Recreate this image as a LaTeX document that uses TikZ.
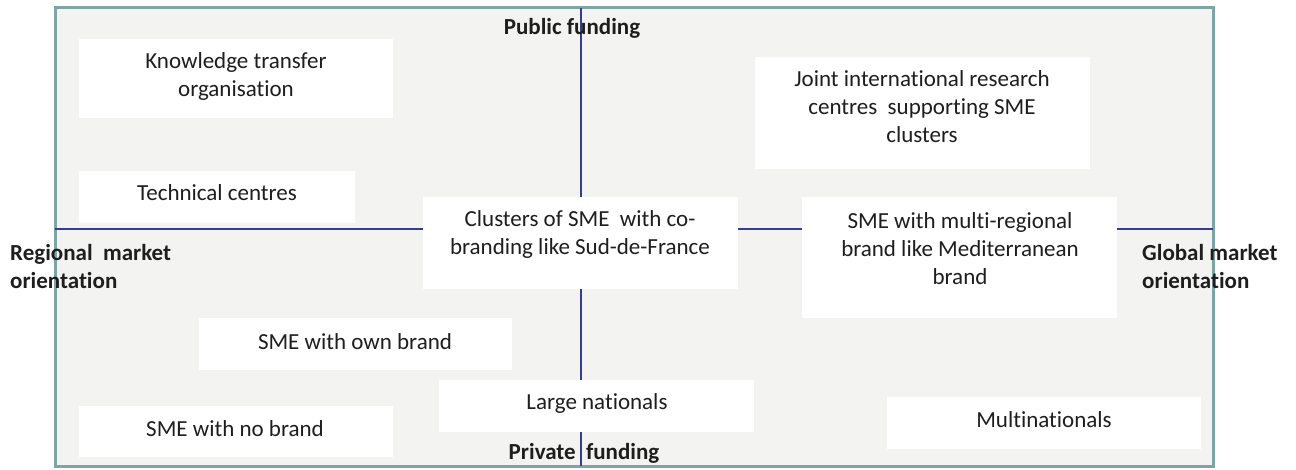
\documentclass[tikz,border=0pt]{standalone}
\usepackage{fontspec}
\setmainfont{Carlito}[Ligatures=NoCommon]
\definecolor{panelgray}{RGB}{243,243,242}
\definecolor{frameteal}{RGB}{125,165,168}
\definecolor{axisblue}{RGB}{55,60,140}
\definecolor{inkgray}{RGB}{30,30,30}

\begin{document}
\begin{tikzpicture}[x=1pt, y=-1pt,
	cell/.style={fill=white, inner sep=0pt},
	celltext/.style={align=center, inner sep=0pt, text=inkgray, font=\fontsize{23}{28}\selectfont},
	axislabel/.style={align=left, inner sep=0pt, text=inkgray, font=\fontsize{23}{28}\selectfont\bfseries},
	axisline/.style={draw=axisblue, line width=1.5pt}]
	\useasboundingbox (0,0) rectangle (1296,470);
	
	%panel
	\filldraw [fill=panelgray, draw=frameteal, line width=3pt] (55,8) rectangle (1213,466);
	
	%ends of the axes
	\coordinate (N) at (581,8);
	\coordinate (S) at (581,466);
	\coordinate (W) at (55,229);
	\coordinate (E) at (1213,229);
	
	%axes
	\draw [axisline] (N) -- (S);
	\draw [axisline] (W) -- (E);
	
	%axis labels
	\node [axislabel] (pub) at (572,28) {Public funding};
	\node [axislabel] (priv) at (584,453) {Private\ \ funding};
	\node [axislabel, anchor=west] (reg) at (10,267) {Regional\ \ market\\orientation};
	\node [axislabel, anchor=west] (glob) at (1142,267) {Global market\\orientation};
	
	%boxes
	\node [cell, minimum width=314pt, minimum height=79pt] (kto) at (236,78.5) {};
	\node [cell, minimum width=276pt, minimum height=52pt] (tc) at (217,197) {};
	\node [cell, minimum width=335pt, minimum height=112pt] (jirc) at (922.5,113) {};
	\node [cell, minimum width=315pt, minimum height=92pt] (clus) at (580.5,243) {};
	\node [cell, minimum width=315pt, minimum height=121pt] (multi) at (959.5,257.5) {};
	\node [cell, minimum width=313pt, minimum height=52pt] (own) at (355.5,344) {};
	\node [cell, minimum width=315pt, minimum height=52pt] (large) at (596.5,406) {};
	\node [cell, minimum width=314pt, minimum height=51pt] (nobrand) at (236,431.5) {};
	\node [cell, minimum width=314pt, minimum height=52pt] (mnc) at (1044,423) {};
	
	%box texts
	\node [celltext] (kto-t) at (236,76.5) {Knowledge transfer\\organisation};
	\node [celltext] (tc-t) at (217,192.5) {Technical centres};
	\node [celltext] (jirc-t) at (922,106.5) {Joint international research\\centres\ \ supporting SME\\clusters};
	\node [celltext] (clus-t) at (580,234.5) {Clusters of SME\ \ with co-\\branding like Sud-de-France};
	\node [celltext] (multi-t) at (960,248.5) {SME with multi-regional\\brand like Mediterranean\\brand};
	\node [celltext] (own-t) at (355,341.5) {SME with own brand};
	\node [celltext] (large-t) at (597,403.5) {Large nationals};
	\node [celltext] (nobrand-t) at (235,428.5) {SME with no brand};
	\node [celltext] (mnc-t) at (1044,419.5) {Multinationals};
\end{tikzpicture}
\end{document}
